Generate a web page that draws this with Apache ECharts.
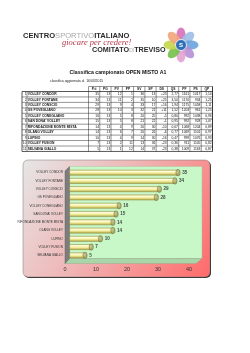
<!DOCTYPE html>
<html><head><meta charset="utf-8">
<script src="https://cdn.jsdelivr.net/npm/echarts@6/dist/echarts.min.js"></script>
<style>html,body{margin:0;padding:0;background:#fff}#c{width:250px;height:353px}</style>
</head><body><div id="c"></div>
<script>
// ---- data ----
const teams = ["VOLLEY CONDOR","VOLLEY FONTANE","VOLLEY CONSCIO","GS POVEGLIANO","VOLLEY CONEGLIANO","SAN DONA' VOLLEY","RIFONDAZIONE MONTE MISTA","OLANG VOLLEY","LUPINO","VOLLEY FUSION","SELVANA GIALLO"];
const points = [35,34,29,28,16,15,14,14,10,7,5];
const pg = [13,13,13,13,13,13,13,13,13,13,13];
const pv = [12,11,9,10,5,5,4,6,4,2,1];
const pp = [1,2,4,3,8,8,9,7,9,11,12];
const sv = [36,35,33,32,20,21,20,20,14,13,14];
const sp = [13,10,17,21,25,22,30,26,30,36,37];
const ds = ["+23","+25","+16","+11","-5","-1","-10","-6","-16","-23","-23"];
const qs = ["2,77","3,50","1,94","1,52","0,80","0,95","0,67","0,77","0,47","0,36","0,38"];
const pf = [1161,1170,1175,1203,992,992,1068,1069,999,911,1009];
const ps = [1017,934,1058,961,1038,928,1204,1101,1076,1105,1163];
const qp = ["1,14","1,25","1,11","1,25","0,96","1,07","0,89","0,97","0,93","0,82","0,87"];
const headers = ["P.ti","PG","PV","PP","SV","SP","DS","QS","PF","PS","QP"];
const xTicks = [0,10,20,30,40];

const chart = echarts.init(document.getElementById('c'), null, {renderer:'canvas'});
const G = [];
const FONT = '"Liberation Sans", Arial, sans-serif';

// ---- logo ----
G.push({type:'text', style:{x:23, y:31.5, text:'{a|CENTRO}{b|SPORTIVO}{a|ITALIANO}',
  rich:{a:{fontSize:7.6, fontWeight:'bold', fontFamily:FONT, fill:'#2b2b2b'}, b:{fontSize:7.6, fontFamily:FONT, fill:'#a8a8a8'}}}});
G.push({type:'text', style:{x:62, y:38.5, text:'giocare per credere!', font:'italic 8.5px "Liberation Serif", serif', fill:'#b53a4a'}});
G.push({type:'text', style:{x:92, y:47, text:'{a|COMITATO}{c|DI}{a|TREVISO}',
  rich:{a:{fontSize:7.2, fontWeight:'bold', fontFamily:FONT, fill:'#2b2b2b'}, c:{fontSize:5, fontFamily:FONT, fill:'#a8a8a8'}}}});
const petalColors = ['#d86fb6','#9fbde6','#6aa3dd','#b68fd6','#e2a3d2','#76c04a','#c5d64a','#f2a57a'];
petalColors.forEach((col,i)=>{
  G.push({type:'ellipse', x:181, y:45, rotation:-i*Math.PI*2/petalColors.length,
    shape:{cx:0, cy:-9.5, rx:4.6, ry:8}, style:{fill:col, opacity:0.9}});
});
G.push({type:'circle', shape:{cx:181, cy:45, r:5.5}, style:{fill:'#2f6fb6', stroke:'#fff', lineWidth:0.8}});
G.push({type:'text', style:{x:181, y:45, text:'S', font:'bold 6px '+FONT, fill:'#fff', textAlign:'center', textVerticalAlign:'middle'}});

// ---- title ----
G.push({type:'text', style:{x:118, y:72.5, text:'Classifica campionato OPEN MISTO A1', font:'bold 5.2px '+FONT, fill:'#111', textAlign:'center', textVerticalAlign:'middle'}});
G.push({type:'text', style:{x:50, y:81.5, text:'classifica aggiornata al  16/03/2015', font:'3.4px '+FONT, fill:'#222', textVerticalAlign:'middle'}});

// ---- table ----
const tL = 22, tNum = 27, tName = 88.5, tR = 212.5, hTop = 86.5, rTop = 91.5, rH = 5.45;
const cw = (tR - tName) / headers.length;
const nRows = teams.length;
const tBot = rTop + nRows * rH;
const line = (x1,y1,x2,y2,w)=>G.push({type:'line', shape:{x1,y1,x2,y2}, style:{stroke:'#111', lineWidth:w||0.45}});
// header
line(tName, hTop, tR, hTop);
for (let c=0;c<=headers.length;c++) line(tName + c*cw, hTop, tName + c*cw, tBot);
headers.forEach((h,c)=>G.push({type:'text', style:{x:tName + (c+0.5)*cw, y:(hTop+rTop)/2, text:h, font:'bold 3.3px '+FONT, fill:'#111', textAlign:'center', textVerticalAlign:'middle'}}));
for (let r=0;r<=nRows;r++) line(tL, rTop + r*rH, tR, rTop + r*rH, (r===0||r===nRows)?0.7:0.45);
line(tL, rTop, tL, tBot, 0.7); line(tNum, rTop, tNum, tBot); line(tR, hTop, tR, tBot, 0.7);
const cols = [points,pg,pv,pp,sv,sp,ds,qs,pf,ps,qp];
teams.forEach((t,r)=>{
  const cy = rTop + (r+0.5)*rH;
  G.push({type:'text', style:{x:tNum-0.5, y:cy, text:String(r+1), font:'3.3px '+FONT, fill:'#111', textAlign:'right', textVerticalAlign:'middle'}});
  G.push({type:'text', style:{x:tNum+0.8, y:cy, text:t, font:'bold 3.3px '+FONT, fill:'#111', textVerticalAlign:'middle'}});
  cols.forEach((arr,c)=>G.push({type:'text', style:{x:tName + (c+1)*cw - 0.8, y:cy, text:String(arr[r]), font:'3.3px '+FONT, fill:'#111', textAlign:'right', textVerticalAlign:'middle'}}));
});

// ---- chart box ----
G.push({type:'rect', z:-20, shape:{x:24, y:161, width:187, height:117, r:5}, style:{fill:'#2a2a2a'}});
G.push({type:'rect', z:-19, shape:{x:23, y:160, width:187, height:117, r:5},
  style:{fill:new echarts.graphic.LinearGradient(0,0,1,1,[{offset:0,color:'#e6e6e6'},{offset:0.45,color:'#f0b4b4'},{offset:1,color:'#ff6a6a'}]), stroke:'#777', lineWidth:0.5}});
// back wall
G.push({type:'rect', z:-18, shape:{x:69.5, y:166.5, width:132.5, height:92}, style:{fill:'#c8f7c8', stroke:'#9fbf9f', lineWidth:0.4}});
// floor
G.push({type:'polygon', z:-17, shape:{points:[[69.5,258.5],[202,258.5],[196,263.5],[65,263.5]]}, style:{fill:'#a9d6a9', stroke:'#8aa88a', lineWidth:0.4}});
// left wall
G.push({type:'polygon', z:-17, shape:{points:[[65,171],[69.5,166.5],[69.5,258.5],[65,263.5]]}, style:{fill:'#7d7d7d', stroke:'#555', lineWidth:0.4}});

chart.setOption({
  animation:false,
  graphic:G,
  grid:[{left:69.5, width:124, top:168.5, height:91},
        {left:65, width:124, top:262, height:1}],
  xAxis:[{gridIndex:0, type:'value', min:0, max:40, interval:10, show:false},
         {gridIndex:1, type:'value', min:0, max:40, interval:10, axisLine:{show:false}, axisTick:{show:false}, splitLine:{show:false},
          axisLabel:{fontSize:5.5, color:'#333', margin:3.5, fontFamily:FONT, formatter:v=>xTicks.includes(v)?String(v):''}}],
  yAxis:[{gridIndex:0, type:'category', inverse:true, data:teams, axisLine:{show:false}, axisTick:{show:false},
          axisLabel:{fontSize:3.1, color:'#333', margin:6.5, fontFamily:FONT, interval:0}},
         {gridIndex:1, type:'value', show:false}],
  series:[
    {type:'bar', xAxisIndex:0, yAxisIndex:0, data:points, barWidth:5.6, z:3,
     itemStyle:{color:new echarts.graphic.LinearGradient(0,0,0,1,[{offset:0,color:'#d9d27a'},{offset:0.25,color:'#fffde2'},{offset:0.55,color:'#f6ee9c'},{offset:1,color:'#aaa23e'}]),
       borderColor:'#7d7838', borderWidth:0.4}},
    {type:'scatter', xAxisIndex:0, yAxisIndex:0, data:points.map((v,i)=>[v,i]), symbol:'circle', symbolSize:[4.4,6.6], z:4,
     itemStyle:{color:new echarts.graphic.RadialGradient(0.4,0.4,0.7,[{offset:0,color:'#ccc68a'},{offset:1,color:'#857d3a'}]), borderColor:'#5c5628', borderWidth:0.4},
     label:{show:true, position:'right', distance:1.8, formatter:p=>p.value[0], fontSize:4.6, fontWeight:'bold', color:'#222', fontFamily:FONT}},
    {type:'scatter', xAxisIndex:1, yAxisIndex:1, data:[]}
  ]
});
</script></body></html>
